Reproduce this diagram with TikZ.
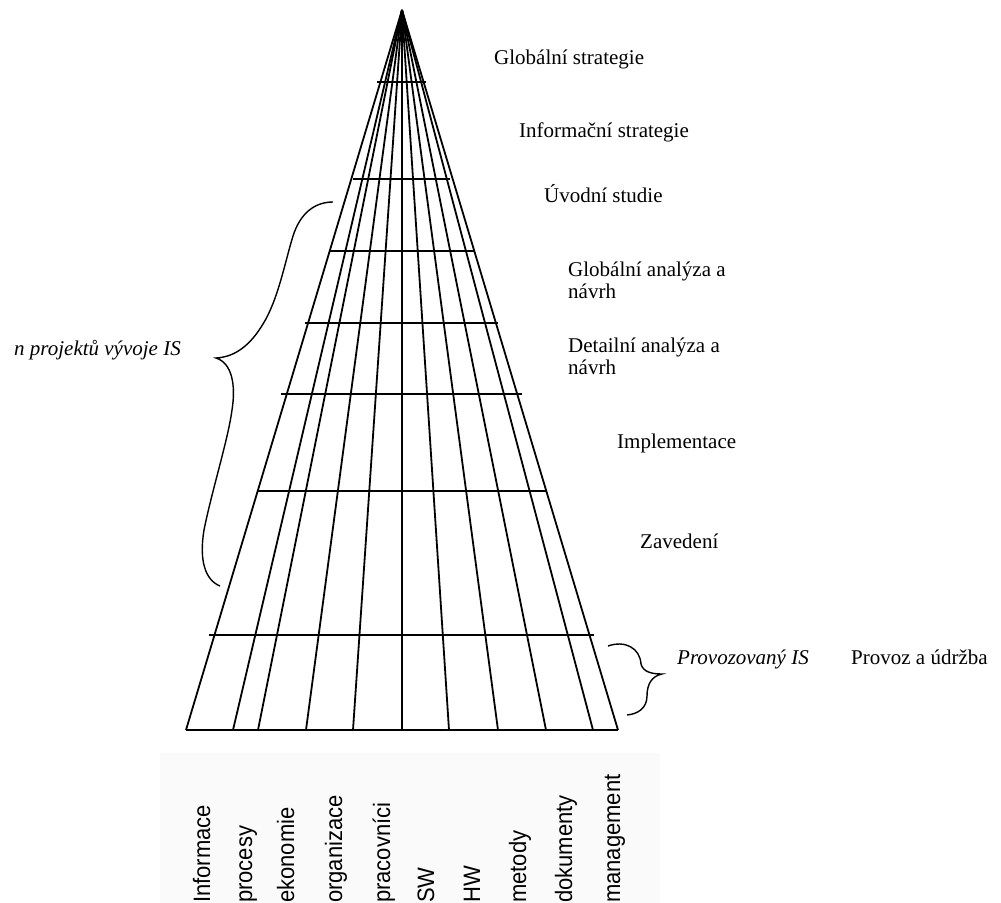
\documentclass[tikz,border=0pt]{standalone}
\usepackage{graphicx}
\usepackage{fontspec}
\setmainfont{Liberation Serif}
\newfontfamily\labelfont{Liberation Sans}

\tikzset{
  ray/.style={line width=1.8pt},
  rung/.style={line width=1.8pt},
  bracepath/.style={line width=1.4pt},
  phase/.style={anchor=base west, inner sep=0pt, font=\fontsize{21}{25}\selectfont},
  note/.style={phase, font=\fontsize{21}{25}\selectfont\itshape},
  area/.style={anchor=base west, inner sep=0pt, rotate=90,
               font=\labelfont\fontsize{22}{24}\selectfont},
}
\newcommand{\arealabel}[1]{\scalebox{1}[1.08]{#1}}

\begin{document}
\begin{tikzpicture}[x=1pt,y=-1pt]
\useasboundingbox (0,0) rectangle (1001,902);

% panel behind the area labels
\fill[black!2] (160,753) rectangle (660,905);

% apex and the foot of every ray
\coordinate (apex) at (402,10);
\foreach \i/\x in {0/186,1/233,2/258,3/306,4/353,5/402,6/449,7/498,8/546,9/593,10/618}
  \coordinate (b\i) at (\x,730);

% rays of the cone
\foreach \i in {0,...,10}
  \draw[ray] (apex) -- (b\i);
% base line
\draw[ray] (b0) -- (b10);

% phase boundaries
\foreach \k/\y/\h in {1/82/24.5,2/179/48.5,3/251/72,4/323/96.5,5/394/120.5,6/491/144,7/635/192.5}{
  \coordinate (r\k l) at (401.5-\h,\y);
  \coordinate (r\k r) at (401.5+\h,\y);
  \draw[rung] (r\k l) -- (r\k r);
}

% phase names
\node[phase] (p1) at (494,64) {Globální strategie};
\node[phase] (p2) at (519,137) {Informační strategie};
\node[phase] (p3) at (544,202) {Úvodní studie};
\node[phase] (p4a) at (568,276) {Globální analýza a};
\node[phase] (p4b) at (568,298) {návrh};
\node[phase] (p5a) at (568,352) {Detailní analýza a};
\node[phase] (p5b) at (568,374) {návrh};
\node[phase] (p6) at (617,448) {Implementace};
\node[phase] (p7) at (640,548) {Zavedení};
\node[note]  (run) at (677,664) {Provozovaný IS};
\node[phase] (p8) at (851,664) {Provoz a údržba};
\node[note]  (proj) at (14,355) {n projektů vývoje IS};

% brace over the development projects
\draw[bracepath] (333,202) .. controls (314,202) and (300,214) .. (293,236)
  .. controls (285,262) and (278,300) .. (263,324)
  .. controls (251,344) and (236,357) .. (216,358)
  .. controls (232,363) and (236,385) .. (232,410)
  .. controls (228,440) and (212,490) .. (204,530)
  .. controls (199,560) and (205,580) .. (220,586);

% brace over the operated system
\draw[bracepath] (608,646) .. controls (625,640) and (640,648) .. (641,664)
  .. controls (643,672) and (652,674) .. (662,674)
  .. controls (652,676) and (647,684) .. (647,696)
  .. controls (647,708) and (638,714) .. (627,715);

% areas under the cone
\node[area] (a0) at (210,903) {\arealabel{Informace}};
\node[area] (a1) at (252,903) {\arealabel{procesy}};
\node[area] (a2) at (294,903) {\arealabel{ekonomie}};
\node[area] (a3) at (342,903) {\arealabel{organizace}};
\node[area] (a4) at (390,903) {\arealabel{pracovníci}};
\node[area] (a5) at (434,903) {\arealabel{SW}};
\node[area] (a6) at (480,903) {\arealabel{HW}};
\node[area] (a7) at (526,903) {\arealabel{metody}};
\node[area] (a8) at (572,903) {\arealabel{dokumenty}};
\node[area] (a9) at (620,903) {\arealabel{management}};
\end{tikzpicture}
\end{document}
